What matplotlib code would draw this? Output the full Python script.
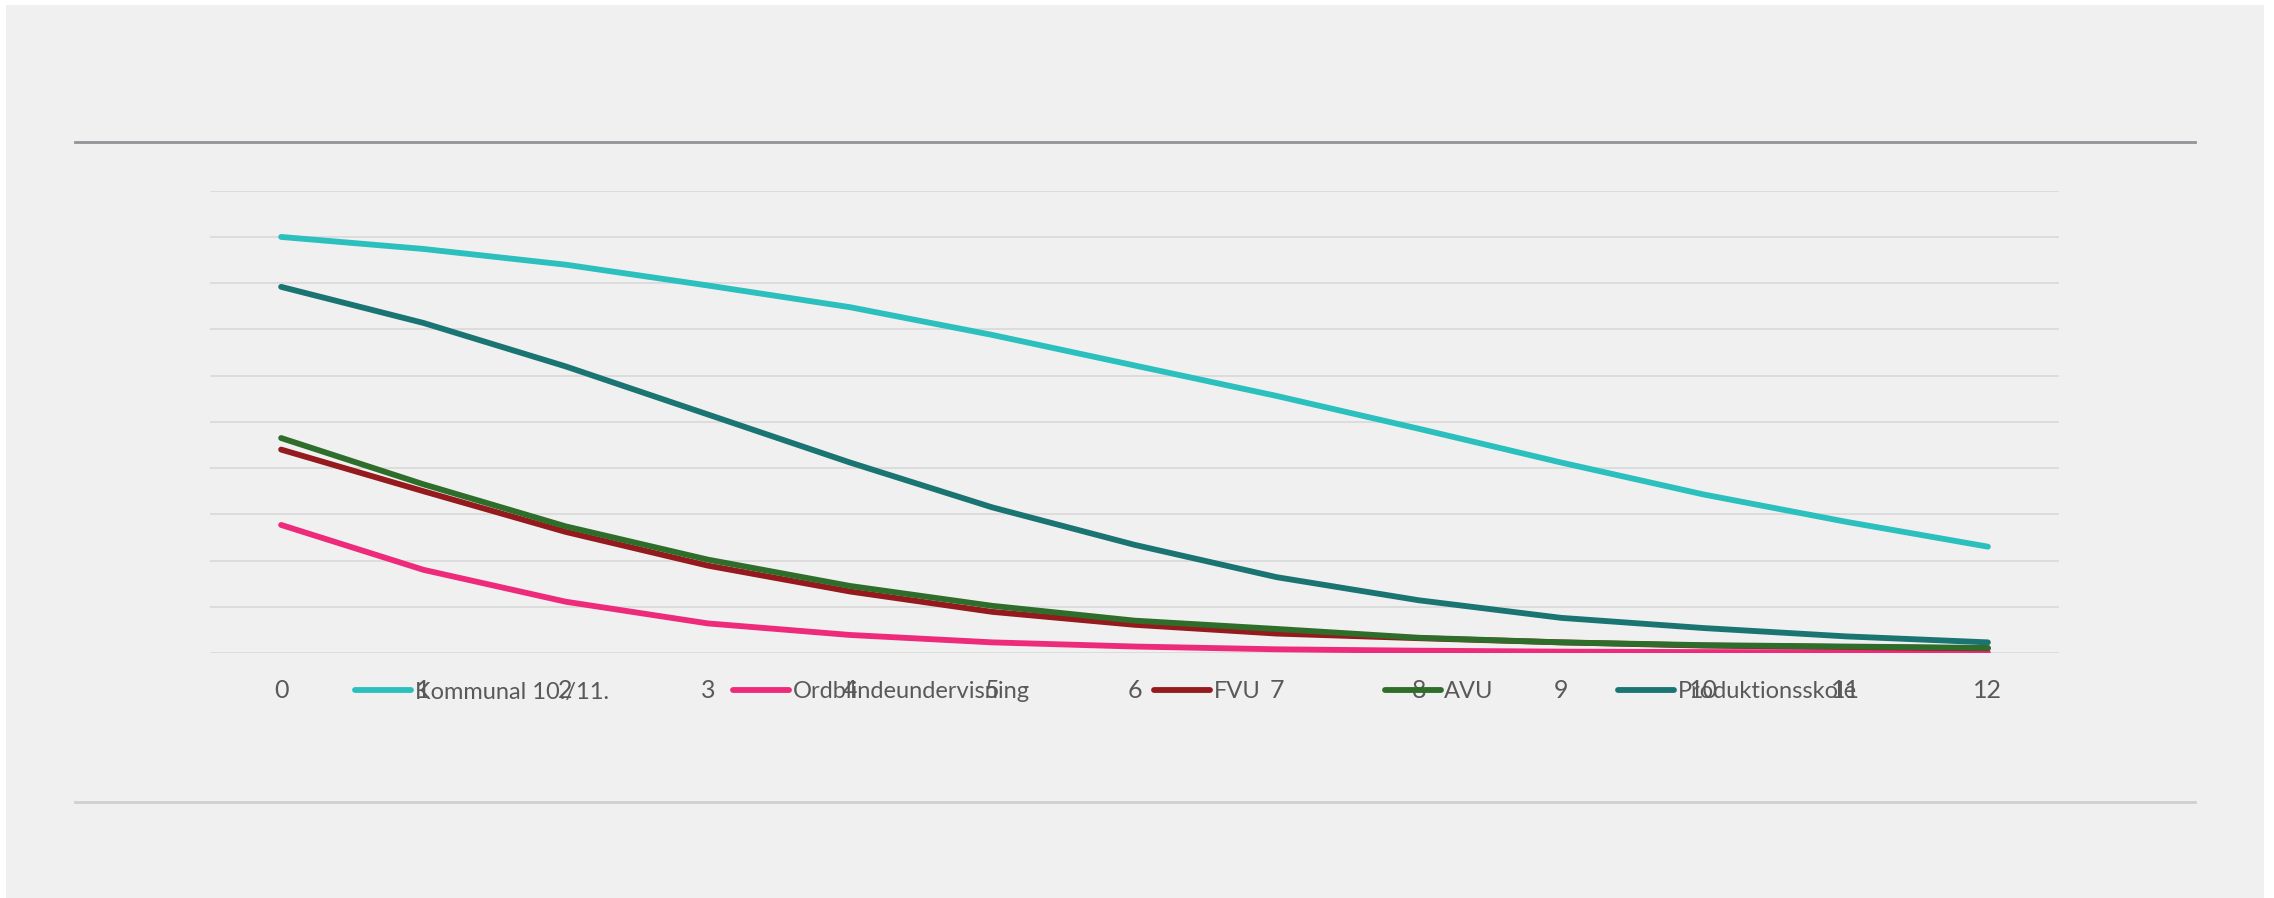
import matplotlib.pyplot as plt
from matplotlib.patches import Rectangle
from matplotlib.lines import Line2D

# years since start (category axis)
years = list(range(13))

kommunal = [90.0, 87.4, 84.0, 79.5, 74.8, 68.8, 62.2, 55.6, 48.5, 41.2, 34.3, 28.4, 23.0]
ordblinde = [27.7, 18.0, 11.1, 6.4, 3.9, 2.3, 1.4, 0.8, 0.5, 0.3, 0.2, 0.15, 0.1]
fvu = [44.0, 35.0, 26.2, 18.9, 13.3, 8.9, 6.1, 4.2, 3.2, 2.3, 1.6, 1.3, 1.0]
avu = [46.5, 36.5, 27.4, 20.2, 14.5, 10.2, 7.0, 5.2, 3.3, 2.3, 1.7, 1.4, 1.1]
produktion = [79.2, 71.4, 62.0, 51.6, 41.2, 31.5, 23.4, 16.4, 11.4, 7.6, 5.4, 3.6, 2.3]

labels = ['Kommunal 10./11.', 'Ordblindeundervisning', 'FVU', 'AVU', 'Produktionsskole']
colors = ['#2BBFBD', '#EE2A7B', '#941A1D', '#2E6E2A', '#1A7472']
series = [kommunal, ordblinde, fvu, avu, produktion]

plt.rcParams['font.family'] = ['Lato', 'DejaVu Sans']

W, H = 2274, 898
fig = plt.figure(figsize=(W / 100, H / 100), dpi=100, facecolor='white')

# grey panel behind everything
fig.patches.append(Rectangle((6 / W, 0), (2264 - 6) / W, (H - 5) / H,
                             transform=fig.transFigure, facecolor='#F0F0F0',
                             edgecolor='none', zorder=-10))
# top and bottom rules
fig.add_artist(Line2D([75 / W, 2195 / W], [1 - 142 / H, 1 - 142 / H],
                      color='#939398', linewidth=2.0, zorder=-5))
fig.add_artist(Line2D([75 / W, 2195 / W], [1 - 802 / H, 1 - 802 / H],
                      color='#D0D0D0', linewidth=2.0, zorder=-5))

ax = fig.add_axes([210 / W, (H - 653) / H, (2059 - 210) / W, (653 - 190.7) / H])
ax.set_facecolor('none')
ax.set_zorder(1)

for vals, lab, col in zip(series, labels, colors):
    ax.plot(years, vals, color=col, linewidth=4.2, label=lab,
            solid_capstyle='round', solid_joinstyle='round', zorder=3)

ax.set_xlim(-0.5, 12.5)
ax.set_ylim(0, 100)
ax.set_yticks(range(0, 101, 10))
ax.set_xticks(years)
ax.grid(axis='y', color='#DADADA', linewidth=1.3)
ax.set_axisbelow(True)
ax.tick_params(axis='y', left=False, labelleft=False)
ax.tick_params(axis='x', length=0, pad=19, labelsize=18, labelcolor='#595959')
for s in ax.spines.values():
    s.set_visible(False)

leg = fig.legend(loc='center', bbox_to_anchor=(1106 / W, 1 - 692 / H), ncol=5,
                 frameon=False, fontsize=17, handlelength=2.37, handletextpad=0.16,
                 columnspacing=5.25, labelcolor='#595959', borderpad=0)
leg.set_zorder(5)

fig.savefig('out.png', dpi=100, facecolor='white')
